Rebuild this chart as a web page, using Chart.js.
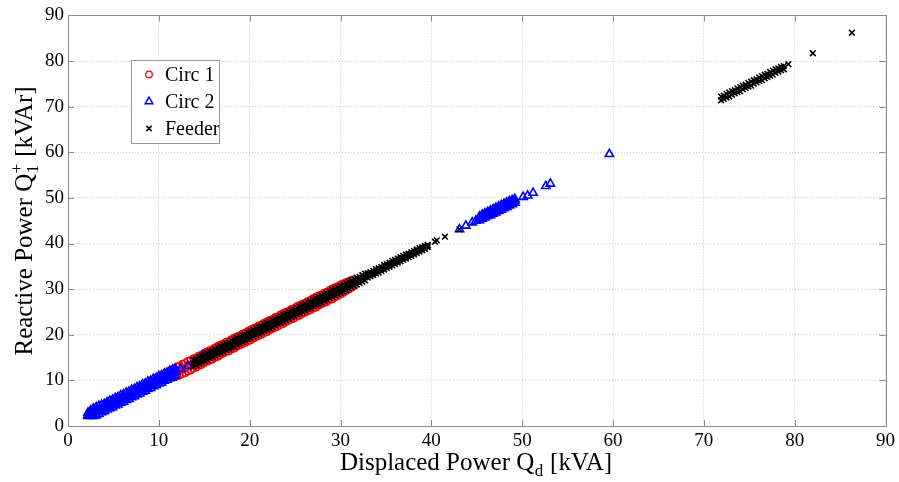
<!DOCTYPE html>
<html>
<head>
<meta charset="utf-8">
<script src="https://cdn.jsdelivr.net/npm/chart.js@4/dist/chart.umd.min.js"></script>
<style>
  html, body { margin: 0; padding: 0; background: #fff; }
  #wrap { width: 899px; height: 482px; }
</style>
</head>
<body>
<div id="wrap"><canvas id="chart" width="899" height="482"></canvas></div>
<script>
// axis ticks
const xTicks = [0, 10, 20, 30, 40, 50, 60, 70, 80, 90];
const yTicks = [0, 10, 20, 30, 40, 50, 60, 70, 80, 90];

const seriesNames = ['Circ 1', 'Circ 2', 'Feeder'];

// Circ 1 (red circles): band from ~11.4 to ~31.5, read as upper / middle / lower edge of the band
const circ1X = [11.4, 11.7, 12.0, 12.3, 12.6, 12.9, 13.2, 13.5, 13.8, 14.1, 14.4, 14.7, 15.0, 15.3, 15.6, 15.9,
  16.2, 16.5, 16.8, 17.1, 17.4, 17.7, 18.0, 18.3, 18.6, 18.9, 19.2, 19.5, 19.8, 20.1, 20.4, 20.7,
  21.0, 21.3, 21.6, 21.9, 22.2, 22.5, 22.8, 23.1, 23.4, 23.7, 24.0, 24.3, 24.6, 24.9, 25.2, 25.5,
  25.8, 26.1, 26.4, 26.7, 27.0, 27.3, 27.6, 27.9, 28.2, 28.5, 28.8, 29.1, 29.4, 29.7, 30.0, 30.3,
  30.6, 30.9, 31.2, 31.5];
const circ1YHigh = [12.3, 12.6, 13.0, 13.2, 13.6, 13.8, 14.2, 14.4, 14.8, 15.0, 15.4, 15.6, 16.0, 16.3, 16.6, 16.8,
  17.2, 17.5, 17.8, 18.0, 18.4, 18.6, 19.0, 19.3, 19.6, 19.8, 20.2, 20.4, 20.8, 21.1, 21.4, 21.6,
  22.0, 22.2, 22.6, 22.9, 23.2, 23.4, 23.8, 24.0, 24.4, 24.7, 25.0, 25.2, 25.6, 25.8, 26.2, 26.5,
  26.8, 27.0, 27.4, 27.6, 28.0, 28.3, 28.6, 28.8, 29.2, 29.4, 29.8, 30.1, 30.4, 30.6, 31.0, 31.2,
  31.5, 31.7, 32.0, 32.1];
const circ1YMid = [11.3, 11.5, 11.9, 12.1, 12.5, 12.7, 13.1, 13.4, 13.7, 13.9, 14.3, 14.5, 14.9, 15.1, 15.5, 15.8,
  16.1, 16.3, 16.7, 16.9, 17.3, 17.6, 17.9, 18.1, 18.5, 18.7, 19.1, 19.4, 19.7, 19.9, 20.3, 20.5,
  20.9, 21.2, 21.5, 21.7, 22.1, 22.3, 22.7, 23.0, 23.3, 23.5, 23.9, 24.1, 24.5, 24.8, 25.1, 25.3,
  25.7, 25.9, 26.3, 26.6, 26.9, 27.1, 27.5, 27.7, 28.1, 28.4, 28.7, 28.9, 29.3, 29.5, 29.9, 30.2,
  30.5, 30.7, 31.1, 31.3];
const circ1YLow = [10.6, 10.7, 10.9, 11.1, 11.4, 11.6, 12.0, 12.2, 12.6, 12.8, 13.2, 13.4, 13.8, 14.1, 14.4, 14.6,
  15.0, 15.2, 15.6, 15.9, 16.2, 16.4, 16.8, 17.0, 17.4, 17.7, 18.0, 18.2, 18.6, 18.8, 19.2, 19.5,
  19.8, 20.0, 20.4, 20.6, 21.0, 21.3, 21.6, 21.8, 22.2, 22.4, 22.8, 23.1, 23.4, 23.6, 24.0, 24.2,
  24.6, 24.9, 25.2, 25.4, 25.8, 26.0, 26.4, 26.7, 27.0, 27.2, 27.6, 27.8, 28.2, 28.5, 28.9, 29.2,
  29.6, 29.9, 30.3, 30.7];

// Circ 2 (blue triangles): low band 2-12 and band 45-49, plus loose points
const circ2X = [2.2, 2.5, 2.8, 3.1, 3.4, 3.7, 4.0, 4.3, 4.6, 4.9, 5.2, 5.5, 5.8, 6.1, 6.4, 6.7, 7.0, 7.3, 7.6, 7.9,
  8.2, 8.5, 8.8, 9.1, 9.4, 9.7, 10.0, 10.3, 10.6, 10.9, 11.2, 11.5, 11.8];
const circ2YHigh = [2.9, 3.4, 3.8, 4.1, 4.4, 4.6, 4.8, 5.2, 5.5, 5.7, 6.1, 6.3, 6.7, 6.9, 7.3, 7.5, 7.9, 8.1, 8.5, 8.7,
  9.1, 9.3, 9.7, 9.9, 10.3, 10.5, 10.9, 11.1, 11.5, 11.7, 12.1, 12.3, 12.5];
const circ2YMid = [2.4, 2.7, 3.0, 3.2, 3.5, 3.8, 4.1, 4.4, 4.7, 5.0, 5.3, 5.6, 5.9, 6.2, 6.5, 6.8, 7.1, 7.4, 7.7, 8.0,
  8.3, 8.6, 8.9, 9.2, 9.5, 9.8, 10.1, 10.4, 10.7, 11.0, 11.3, 11.6, 11.9];
const circ2YLow = [2.2, 2.2, 2.2, 2.3, 2.6, 3.0, 3.2, 3.6, 3.9, 4.1, 4.5, 4.7, 5.1, 5.3, 5.7, 5.9, 6.3, 6.5, 6.9, 7.1,
  7.5, 7.7, 8.1, 8.3, 8.7, 8.9, 9.3, 9.5, 9.9, 10.1, 10.5, 10.7, 11.0];
const circ2MidX = [45.3, 45.6, 45.9, 46.2, 46.5, 46.8, 47.1, 47.4, 47.7, 48.0, 48.3, 48.6, 48.9, 49.2];
const circ2MidYHigh = [45.9, 46.3, 46.6, 46.9, 47.2, 47.5, 47.8, 48.1, 48.4, 48.7, 49.0, 49.3, 49.5, 49.7];
const circ2MidYMid = [45.6, 45.9, 46.2, 46.5, 46.7, 47.0, 47.3, 47.6, 47.9, 48.2, 48.5, 48.8, 49.1, 49.3];
const circ2MidYLow = [45.1, 45.4, 45.7, 46.0, 46.2, 46.5, 46.8, 47.1, 47.4, 47.7, 48.0, 48.3, 48.6, 48.9];
const circ2LooseX = [12.4, 13.2, 14.8, 43.1, 43.8, 44.5, 44.9, 50.1, 50.6, 51.2, 52.6, 53.1, 59.6];
const circ2LooseY = [12.5, 13.2, 15.4, 43.1, 43.9, 44.6, 45.0, 50.2, 50.5, 51.1, 52.6, 53.1, 59.6];

// Feeder (black crosses): band 14-40, band 72-79, plus loose points
const feederX = [13.8, 14.1, 14.4, 14.7, 15.0, 15.3, 15.6, 15.9, 16.2, 16.5, 16.8, 17.1, 17.4, 17.7, 18.0, 18.3,
  18.6, 18.9, 19.2, 19.5, 19.8, 20.1, 20.4, 20.7, 21.0, 21.3, 21.6, 21.9, 22.2, 22.5, 22.8, 23.1,
  23.4, 23.7, 24.0, 24.3, 24.6, 24.9, 25.2, 25.5, 25.8, 26.1, 26.4, 26.7, 27.0, 27.3, 27.6, 27.9,
  28.2, 28.5, 28.8, 29.1, 29.4, 29.7, 30.0, 30.3, 30.6, 30.9, 31.2, 31.5, 31.8, 32.1, 32.4, 32.7,
  33.0, 33.3, 33.6, 33.9, 34.2, 34.5, 34.8, 35.1, 35.4, 35.7, 36.0, 36.3, 36.6, 36.9, 37.2, 37.5,
  37.8, 38.1, 38.4, 38.7, 39.0, 39.3, 39.6];
const feederYHigh = [14.5, 14.7, 15.1, 15.4, 15.7, 16.0, 16.3, 16.5, 16.9, 17.2, 17.5, 17.8, 18.1, 18.3, 18.7, 19.0,
  19.3, 19.6, 19.9, 20.1, 20.5, 20.8, 21.1, 21.4, 21.7, 21.9, 22.3, 22.6, 22.9, 23.2, 23.5, 23.7,
  24.1, 24.4, 24.7, 25.0, 25.3, 25.5, 25.9, 26.2, 26.5, 26.8, 27.1, 27.3, 27.7, 28.0, 28.3, 28.6,
  28.9, 29.1, 29.5, 29.8, 30.1, 30.4, 30.7, 30.9, 31.3, 31.6, 31.9, 32.2, 32.5, 32.7, 33.1, 33.4,
  33.5, 33.7, 34.0, 34.4, 34.6, 34.9, 35.3, 35.5, 35.8, 36.2, 36.4, 36.7, 37.0, 37.3, 37.6, 37.8,
  38.1, 38.4, 38.7, 39.0, 39.2, 39.4, 39.7];
const feederYMid = [13.7, 14.1, 14.3, 14.6, 15.0, 15.2, 15.5, 15.9, 16.1, 16.4, 16.8, 17.0, 17.3, 17.7, 17.9, 18.2,
  18.6, 18.8, 19.1, 19.5, 19.7, 20.0, 20.4, 20.6, 20.9, 21.3, 21.5, 21.8, 22.2, 22.4, 22.7, 23.1,
  23.3, 23.6, 24.0, 24.2, 24.5, 24.9, 25.1, 25.4, 25.8, 26.0, 26.3, 26.7, 26.9, 27.2, 27.6, 27.8,
  28.1, 28.5, 28.7, 29.0, 29.4, 29.6, 29.9, 30.3, 30.5, 30.8, 31.2, 31.4, 31.7, 32.1, 32.3, 32.6,
  33.0, 33.2, 33.5, 33.9, 34.1, 34.4, 34.8, 35.0, 35.3, 35.7, 35.9, 36.2, 36.6, 36.8, 37.1, 37.5,
  37.7, 38.0, 38.4, 38.6, 38.9, 39.3, 39.5];
const feederYLow = [13.0, 13.3, 13.6, 13.9, 14.2, 14.5, 14.8, 15.1, 15.4, 15.7, 16.0, 16.3, 16.6, 16.9, 17.2, 17.4,
  17.8, 18.1, 18.4, 18.7, 19.0, 19.3, 19.6, 19.9, 20.2, 20.5, 20.8, 21.1, 21.4, 21.7, 22.0, 22.4,
  22.6, 22.9, 23.2, 23.5, 23.8, 24.1, 24.4, 24.7, 25.0, 25.3, 25.6, 25.9, 26.2, 26.5, 26.8, 27.0,
  27.4, 27.7, 28.0, 28.3, 28.6, 28.9, 29.2, 29.5, 29.8, 30.1, 30.4, 30.7, 31.0, 31.3, 31.6, 31.9,
  32.5, 32.8, 33.1, 33.4, 33.6, 34.0, 34.3, 34.6, 34.9, 35.2, 35.5, 35.8, 36.1, 36.4, 36.7, 37.0,
  37.3, 37.6, 37.9, 38.2, 38.5, 38.8, 39.2];
const feederTopX = [71.9, 72.2, 72.5, 72.8, 73.1, 73.4, 73.7, 74.0, 74.3, 74.6, 74.9, 75.2, 75.5, 75.8, 76.1, 76.4,
  76.7, 77.0, 77.3, 77.6, 77.9, 78.2, 78.5, 78.8];
const feederTopYHigh = [72.2, 72.4, 72.8, 73.1, 73.4, 73.6, 74.0, 74.3, 74.6, 74.8, 75.2, 75.5, 75.8, 76.0, 76.4, 76.7,
  77.0, 77.2, 77.6, 77.9, 78.2, 78.4, 78.7, 78.9];
const feederTopYLow = [71.4, 71.7, 72.0, 72.2, 72.6, 72.9, 73.2, 73.4, 73.8, 74.1, 74.4, 74.6, 75.0, 75.3, 75.6, 75.8,
  76.2, 76.5, 76.8, 77.0, 77.4, 77.7, 78.0, 78.2];
const feederLooseX = [40.4, 40.6, 41.5, 43.1, 79.3, 82.0, 86.3];
const feederLooseY = [40.4, 40.7, 41.5, 43.1, 79.3, 81.7, 86.2];

const FONT = '"Liberation Serif", "Times New Roman", serif';
const FRAME = '#8c8c8c';

const toPoints = (xs, ys) => xs.map((x, i) => ({ x, y: ys[i] }));

function drawMarker(ctx, kind, x, y) {
  ctx.save();
  ctx.beginPath();
  if (kind === 'circle') {
    ctx.strokeStyle = '#ff0000';
    ctx.lineWidth = 1.3;
    ctx.arc(x, y, 3.3, 0, Math.PI * 2);
  } else if (kind === 'triangle') {
    ctx.strokeStyle = '#0000ff';
    ctx.lineWidth = 1.5;
    const r = 4.4;
    ctx.moveTo(x, y - r);
    ctx.lineTo(x + r * 0.866, y + r * 0.5);
    ctx.lineTo(x - r * 0.866, y + r * 0.5);
    ctx.closePath();
  } else {
    ctx.strokeStyle = '#000';
    ctx.lineWidth = 1.5;
    const d = 2.6;
    ctx.moveTo(x - d, y - d); ctx.lineTo(x + d, y + d);
    ctx.moveTo(x + d, y - d); ctx.lineTo(x - d, y + d);
  }
  ctx.stroke();
  ctx.restore();
}

// text with a sub/superscript piece, centred on cx
function drawRich(ctx, parts, cx, baseY) {
  const big = '25px ' + FONT;
  const small = '17px ' + FONT;
  const widths = parts.map(p => {
    if (p.text !== undefined) { ctx.font = big; return ctx.measureText(p.text).width; }
    ctx.font = small;
    const w1 = p.sub ? ctx.measureText(p.sub).width : 0;
    const w2 = p.sup ? ctx.measureText(p.sup).width : 0;
    return Math.max(w1, w2) + 1;
  });
  const total = widths.reduce((a, b) => a + b, 0);
  let x = cx - total / 2;
  ctx.textBaseline = 'alphabetic';
  ctx.textAlign = 'left';
  ctx.fillStyle = '#000';
  parts.forEach((p, i) => {
    if (p.text !== undefined) {
      ctx.font = big;
      ctx.fillText(p.text, x, baseY);
    } else {
      ctx.font = small;
      if (p.sub) ctx.fillText(p.sub, x + 0.5, baseY + 6);
      if (p.sup) ctx.fillText(p.sup, x + 0.5, baseY - 10);
    }
    x += widths[i];
  });
}

const decorations = {
  id: 'decorations',
  afterDraw(chart) {
    const { ctx, chartArea: a, scales } = chart;
    ctx.save();

    // box around axes + inner tick marks
    ctx.strokeStyle = FRAME;
    ctx.lineWidth = 1;
    ctx.strokeRect(Math.round(a.left) + 0.5, Math.round(a.top) + 0.5,
      Math.round(a.right - a.left), Math.round(a.bottom - a.top));
    ctx.beginPath();
    xTicks.forEach(v => {
      const px = Math.round(scales.x.getPixelForValue(v)) + 0.5;
      ctx.moveTo(px, a.bottom); ctx.lineTo(px, a.bottom - 6);
      ctx.moveTo(px, a.top); ctx.lineTo(px, a.top + 6);
    });
    yTicks.forEach(v => {
      const py = Math.round(scales.y.getPixelForValue(v)) + 0.5;
      ctx.moveTo(a.left, py); ctx.lineTo(a.left + 6, py);
      ctx.moveTo(a.right, py); ctx.lineTo(a.right - 6, py);
    });
    ctx.stroke();

    // legend box
    ctx.fillStyle = '#fff';
    ctx.fillRect(131.5, 60.5, 88, 83);
    ctx.strokeStyle = '#999';
    ctx.strokeRect(131.5, 60.5, 88, 83);
    const kinds = ['circle', 'triangle', 'cross'];
    const rowsY = [74.5, 101.5, 128.5];
    ctx.font = '20px ' + FONT;
    ctx.fillStyle = '#000';
    ctx.textBaseline = 'middle';
    ctx.textAlign = 'left';
    seriesNames.forEach((name, i) => {
      drawMarker(ctx, kinds[i], 149, rowsY[i]);
      ctx.fillText(name, 165, rowsY[i] + 1.5);
    });

    // x title
    drawRich(ctx, [{ text: 'Displaced Power Q' }, { sub: 'd' }, { text: ' [kVA]' }], 476, 470);

    // y title (rotated)
    ctx.save();
    ctx.translate(32, 221);
    ctx.rotate(-Math.PI / 2);
    drawRich(ctx, [{ text: 'Reactive Power Q' }, { sub: '1', sup: '+' }, { text: ' [kVAr]' }], 0, 0);
    ctx.restore();

    ctx.restore();
  }
};

const tickFont = { family: FONT, size: 19 };

const circ1Data = [
  ...toPoints(circ1X, circ1YHigh), ...toPoints(circ1X, circ1YMid), ...toPoints(circ1X, circ1YLow)
];
const circ2Data = [
  ...toPoints(circ2X, circ2YHigh), ...toPoints(circ2X, circ2YMid), ...toPoints(circ2X, circ2YLow),
  ...toPoints(circ2MidX, circ2MidYHigh), ...toPoints(circ2MidX, circ2MidYMid), ...toPoints(circ2MidX, circ2MidYLow),
  ...toPoints(circ2LooseX, circ2LooseY)
];
const feederData = [
  ...toPoints(feederX, feederYHigh), ...toPoints(feederX, feederYMid), ...toPoints(feederX, feederYLow),
  ...toPoints(feederTopX, feederTopYHigh), ...toPoints(feederTopX, feederTopYLow),
  ...toPoints(feederLooseX, feederLooseY)
];

new Chart(document.getElementById('chart'), {
  type: 'scatter',
  data: {
    datasets: [
      {
        label: seriesNames[0],
        data: circ1Data,
        pointStyle: 'circle',
        pointRadius: 3.4,
        borderColor: '#ff0000',
        backgroundColor: 'rgba(0,0,0,0)',
        borderWidth: 1.4,
        order: 3
      },
      {
        label: seriesNames[1],
        data: circ2Data,
        pointStyle: 'triangle',
        pointRadius: 4.8,
        borderColor: '#0000ff',
        backgroundColor: 'rgba(0,0,0,0)',
        borderWidth: 1.6,
        order: 2
      },
      {
        label: seriesNames[2],
        data: feederData,
        pointStyle: 'crossRot',
        pointRadius: 4,
        borderColor: '#000000',
        backgroundColor: '#000000',
        borderWidth: 1.6,
        order: 1
      }
    ]
  },
  options: {
    responsive: false,
    animation: false,
    events: [],
    layout: { padding: { top: 11, right: 10, left: 0, bottom: 0 } },
    plugins: {
      legend: { display: false },
      tooltip: { enabled: false }
    },
    scales: {
      x: {
        type: 'linear',
        min: 0,
        max: 90,
        afterFit: s => { s.height = 56; },
        afterBuildTicks: s => { s.ticks = xTicks.map(v => ({ value: v })); },
        ticks: { font: tickFont, color: '#000', padding: 4, maxRotation: 0 },
        grid: { color: '#c8c8c8', drawTicks: false, lineWidth: 1 },
        border: { color: FRAME, dash: [1, 2] }
      },
      y: {
        type: 'linear',
        min: 0,
        max: 90,
        afterFit: s => { s.width = 68; },
        afterBuildTicks: s => { s.ticks = yTicks.map(v => ({ value: v })); },
        ticks: { font: tickFont, color: '#000', padding: 4 },
        grid: { color: '#c8c8c8', drawTicks: false, lineWidth: 1 },
        border: { color: FRAME, dash: [1, 2] }
      }
    }
  },
  plugins: [decorations]
});
</script>
</body>
</html>
